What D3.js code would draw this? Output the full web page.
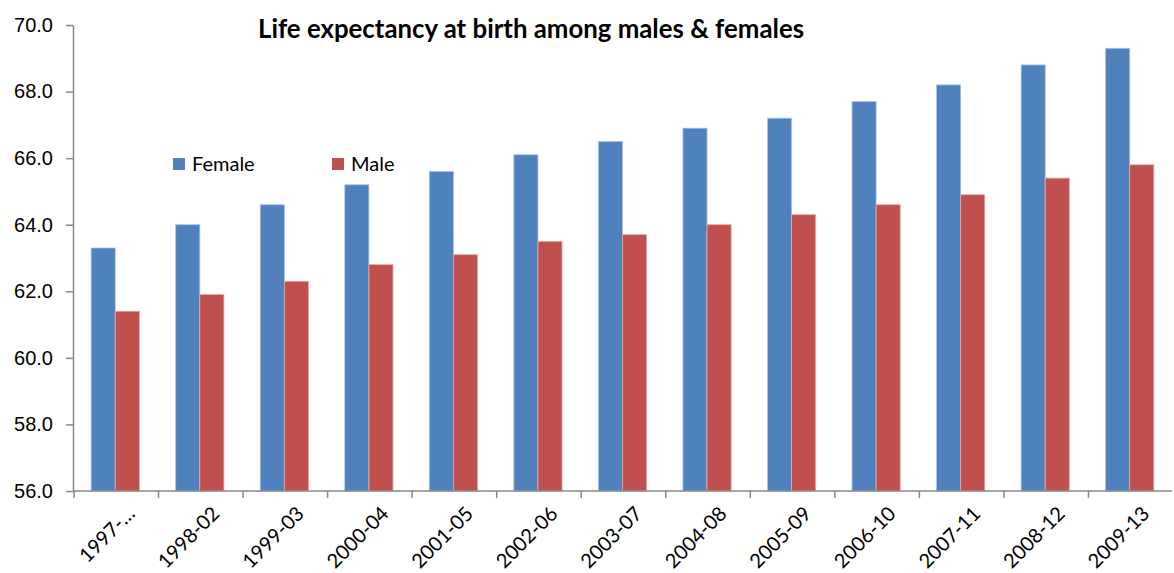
<!DOCTYPE html>
<head>
  <meta charset="utf-8">
  <script src="https://d3js.org/d3.v7.min.js"></script>
  <style>
    body { margin: 0; background: #fff; }
    svg { font-family: Lato, "Open Sans", sans-serif; }
    .axis path, .axis line { stroke: #898989; stroke-width: 1.5px; }
    .axis text { fill: #000; font-size: 20px; }
  </style>
</head>
<body>
  <svg id="chart" width="1174" height="573"></svg>
  <script>
    var periods = ["1997-…", "1998-02", "1999-03", "2000-04", "2001-05", "2002-06", "2003-07",
      "2004-08", "2005-09", "2006-10", "2007-11", "2008-12", "2009-13"];
    var female = [63.3, 64.0, 64.6, 65.2, 65.6, 66.1, 66.5, 66.9, 67.2, 67.7, 68.2, 68.8, 69.3];
    var male = [61.4, 61.9, 62.3, 62.8, 63.1, 63.5, 63.7, 64.0, 64.3, 64.6, 64.9, 65.4, 65.8];
    var yTicks = [56, 58, 60, 62, 64, 66, 68, 70];
    var seriesNames = ["Female", "Male"];

    var svg = d3.select("#chart"),
      plotLeft = 73, plotRight = 1172, plotTop = 25, plotBottom = 491;

    var colors = d3.scaleOrdinal().domain(seriesNames).range(["#4F81BD", "#C0504D"]);

    var x = d3.scaleBand().domain(periods).range([plotLeft, plotRight])
      .paddingInner(0.43).paddingOuter(0.215);
    var xSub = d3.scaleBand().domain(seriesNames).range([0, x.bandwidth()]);
    var y = d3.scaleLinear().domain([56, 70]).range([plotBottom, plotTop]);

    var rows = periods.map((p, i) => ({ period: p, Female: female[i], Male: male[i] }));

    // bars
    svg.append("g").selectAll("g")
      .data(rows)
      .join("g")
      .attr("transform", d => "translate(" + x(d.period) + ",0)")
      .selectAll("rect")
      .data(d => seriesNames.map(k => ({ key: k, value: d[k] })))
      .join("rect")
      .attr("x", d => xSub(d.key))
      .attr("width", xSub.bandwidth())
      .attr("y", d => y(d.value))
      .attr("height", d => y(56) - y(d.value))
      .attr("fill", d => colors(d.key))
      .attr("stroke", d => d.key == "Female" ? "#a9c1e2" : "#e0a9a8")
      .attr("stroke-width", 0.8);

    // y axis
    svg.append("g")
      .attr("class", "axis")
      .attr("transform", "translate(" + plotLeft + ",0)")
      .call(d3.axisLeft(y).tickValues(yTicks).tickFormat(d3.format(".1f")).tickSize(7).tickSizeOuter(0).tickPadding(13));

    // x axis with ticks between categories
    var step = x.step();
    var xa = svg.append("g")
      .attr("class", "axis")
      .attr("transform", "translate(0," + plotBottom + ")");
    xa.append("line").attr("x1", plotLeft).attr("x2", plotRight);
    xa.selectAll(".tk")
      .data(periods)
      .join("line")
      .attr("class", "tk")
      .attr("x1", (d, i) => plotLeft + i * step + 1)
      .attr("x2", (d, i) => plotLeft + i * step + 1)
      .attr("y1", 0).attr("y2", 7);
    xa.selectAll("text")
      .data(periods)
      .join("text")
      .attr("text-anchor", "end")
      .attr("transform", d => "translate(" + (x(d) + x.bandwidth() / 2 + 16) + ",19) rotate(-45)")
      .attr("dy", "0.35em")
      .text(d => d);

    // title
    svg.append("text")
      .attr("x", 531).attr("y", 38)
      .attr("text-anchor", "middle")
      .style("font-weight", "bold")
      .style("font-size", "25.8px")
      .text("Life expectancy at birth among males & females");

    // legend
    var legend = svg.append("g").selectAll("g")
      .data(seriesNames)
      .join("g")
      .attr("transform", (d, i) => "translate(" + (173 + i * 159) + ",158)");
    legend.append("rect").attr("width", 12).attr("height", 12).attr("fill", colors);
    legend.append("text")
      .attr("x", 19).attr("y", 6).attr("dy", "0.35em")
      .style("font-size", "20px")
      .text(d => d);
  </script>
</body>
